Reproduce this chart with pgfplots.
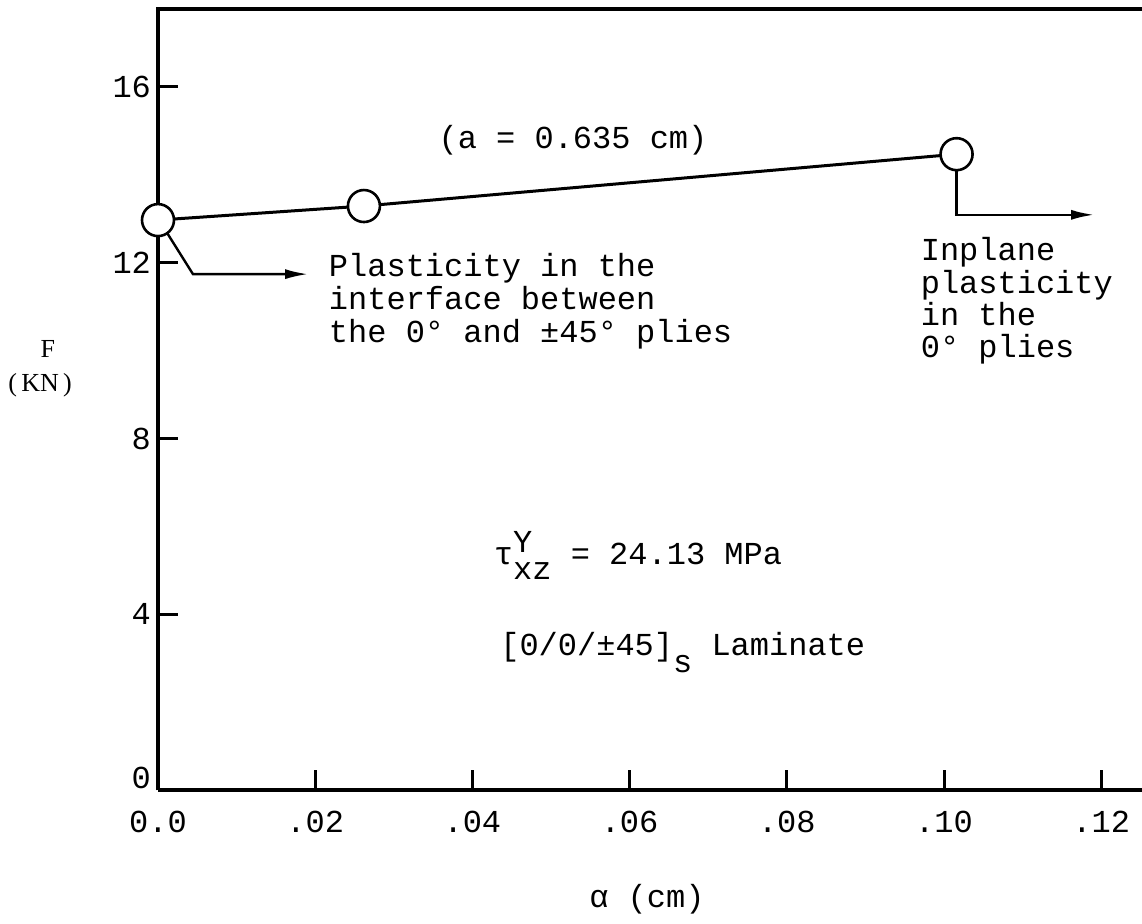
\documentclass[border=0pt]{standalone}
\usepackage{fontspec}
\setmainfont{Liberation Mono}
\newfontfamily\seriffont{Liberation Serif}
\usepackage{pgfplots}
\pgfplotsset{compat=1.18}
\usetikzlibrary{arrows.meta}

\begin{document}
\begin{tikzpicture}[font=\fontsize{16}{16}\selectfont]
\begin{axis}[
  name=ax,
  scale only axis,
  width=492pt, height=390.5pt,
  xmin=0, xmax=0.12519, ymin=0, ymax=17.774,
  axis lines*=left,
  axis line style={line width=1.7pt},
  tick align=inside,
  major tick length=10pt,
  tick style={line width=1.5pt, black},
  xtick={0,0.02,0.04,0.06,0.08,0.10,0.12},
  xticklabels={0.0,.02,.04,.06,.08,.10,.12},
  ytick={0,4,8,12,16},
  yticklabels={\raisebox{12pt}{0},4,8,12,16},
  tick label style={font=\fontsize{16}{16}\selectfont},
  xticklabel style={yshift=-7pt},
  scaled x ticks=false,
  clip=false,
]
\addplot[black, line width=1.5pt, mark=*, mark size=8pt,
  mark options={fill=white, line width=1.3pt}]
  coordinates {(0,12.97) (0.0262,13.29) (0.1016,14.47)};

% frame lines (left over the first marker, top)
\draw[line width=1.7pt] (rel axis cs:0,0) -- (rel axis cs:0,1) -- (rel axis cs:1,1);

% annotation arrows
\draw[line width=1.2pt, -{Latex[length=11.5pt,width=5pt]}]
  (axis cs:0.00115,12.68) -- (axis cs:0.00445,11.74) -- (axis cs:0.0191,11.74);
\draw[line width=1.2pt, -{Latex[length=11.5pt,width=5pt]}]
  (axis cs:0.1016,14.11) -- (axis cs:0.1016,13.09) -- (axis cs:0.1191,13.09);

% texts
\node at (axis cs:0.0528,14.79) {(a = 0.635 cm)};
\node[anchor=base west, inner sep=0pt] at (axis cs:0.0217,11.675) {Plasticity in the};
\node[anchor=base west, inner sep=0pt] at (axis cs:0.0217,10.924) {interface between};
\node[anchor=base west, inner sep=0pt] at (axis cs:0.0217,10.173) {the 0° and ±45° plies};
\node[anchor=base west, inner sep=0pt] at (axis cs:0.0970,12.04) {Inplane};
\node[anchor=base west, inner sep=0pt] at (axis cs:0.0970,11.31) {plasticity};
\node[anchor=base west, inner sep=0pt] at (axis cs:0.0970,10.58) {in the};
\node[anchor=base west, inner sep=0pt] at (axis cs:0.0970,9.85) {0° plies};
\node[anchor=base west, inner sep=0pt] at (axis cs:0.0427,5.14)
  {τ\rlap{\raisebox{6pt}{Y}}\raisebox{-7.5pt}{xz} = 24.13 MPa};
\node[anchor=base west, inner sep=0pt] at (axis cs:0.0435,3.05)
  {[0/0/±45]\raisebox{-8.5pt}{s} Laminate};
\node[anchor=base, inner sep=0pt] at (axis cs:0.0622,-2.663) {α (cm)};
\node[anchor=base, inner sep=0pt, font=\seriffont\fontsize{13}{13}\selectfont] at (axis cs:-0.0140,9.854) {F};
\node[anchor=base, inner sep=0pt, font=\seriffont\fontsize{13}{13}\selectfont] at (axis cs:-0.0150,9.08) {(\,KN\,)};
\end{axis}
\pgfresetboundingbox
\useasboundingbox (ax.south west) ++(-79pt,-66.5pt) rectangle ++(571pt,461.5pt);
\end{tikzpicture}
\end{document}
